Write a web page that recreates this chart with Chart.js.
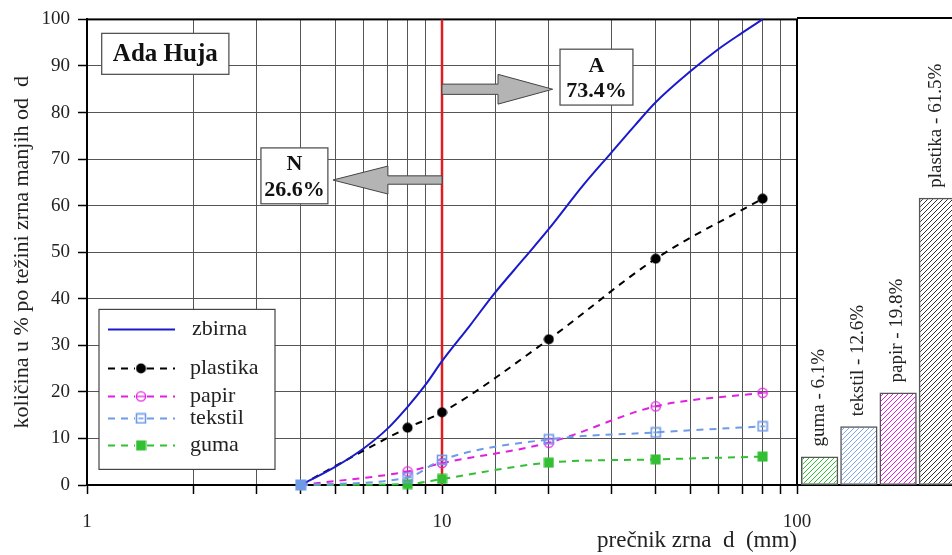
<!DOCTYPE html>
<html><head><meta charset="utf-8">
<script src="https://cdn.jsdelivr.net/npm/chart.js@4.4.1/dist/chart.umd.min.js"></script>
<style>
html,body{margin:0;padding:0;background:#fff;overflow:hidden;width:952px;height:555px;}
#wrap{position:relative;width:952px;height:555px;overflow:hidden;}
#c1{position:absolute;left:0;top:0;}
#c2{position:absolute;left:797px;top:0;}
</style></head><body>
<div id="wrap"><canvas id="c1" width="952" height="555"></canvas><canvas id="c2" width="160" height="555"></canvas></div>
<script>
// ---------- data ----------
const zbirnaX = [4, 5, 6, 7, 8, 9, 10, 12, 14, 17, 20, 25, 30, 35, 40, 50, 60, 70, 80];
const zbirnaY = [0, 3.9, 7.8, 12, 16.8, 21.6, 26.6, 34.3, 41, 48.6, 55, 64.4, 71.4, 77.3, 82.2, 88.8, 93.6, 97.1, 100];
const sieveX = [4, 8, 10, 20, 40, 80];
const plastika = [0, 12.3, 15.6, 31.3, 48.6, 61.5];
const papir = [0, 2.9, 4.7, 9.1, 16.9, 19.8];
const tekstil = [0, 1.6, 5.4, 9.8, 11.3, 12.6];
const guma = [0, 0.2, 1.3, 4.8, 5.5, 6.1];
const barNames = ['guma', 'tekstil', 'papir', 'plastika'];
const barValues = [6.1, 12.6, 19.8, 61.5];
const xTicks = [1, 2, 3, 4, 5, 6, 7, 8, 9, 10, 14.14, 20, 30, 40, 50, 60, 70, 80, 90, 100];
const xLabelTicks = [1, 10, 100];
const yTicks = [0, 10, 20, 30, 40, 50, 60, 70, 80, 90, 100];
const splitSize = 10;
const shareN = 26.6, shareA = 73.4;
const siteName = 'Ada Huja';

const serif = "'Liberation Serif','Times New Roman',serif";
const TXT = '#222';
const C = {zbirna:'#1a1acc', plastika:'#000000', papir:'#e020e0', tekstil:'#6f9ae8', guma:'#33bf33'};

function xy(xs, ys){ return xs.map((x,i)=>({x:x, y:ys[i]})); }
function mk(w,h,draw){ const c=document.createElement('canvas'); c.width=w; c.height=h; draw(c.getContext('2d')); return c; }
const mPlast = mk(11,11,g=>{ g.fillStyle=C.plastika; g.beginPath(); g.arc(5.5,5.5,5,0,2*Math.PI); g.fill(); });
const mPapir = mk(12,12,g=>{ g.strokeStyle=C.papir; g.lineWidth=1.3; g.beginPath(); g.arc(6,6,4.6,0,2*Math.PI); g.stroke(); g.beginPath(); g.moveTo(1.5,6); g.lineTo(10.5,6); g.stroke(); });
const mTekst = mk(12,12,g=>{ g.strokeStyle=C.tekstil; g.lineWidth=1.6; g.strokeRect(1.5,1.5,9,9); g.beginPath(); g.moveTo(3.5,6); g.lineTo(8.5,6); g.stroke(); });
const mTekstFull = mk(12,12,g=>{ g.fillStyle=C.tekstil; g.fillRect(0.5,0.5,11,11); });
const mGuma = mk(11,11,g=>{ g.fillStyle=C.guma; g.fillRect(0.5,0.5,10,10); });
const firstHidden = sieveX.map((x,i)=> i===0 ? 0 : 5);

// ---------- annotations (data coords) ----------
const boxTitle = {x0:1.10, x1:2.51, y0:97.0, y1:88.2};
const boxN = {x0:3.09, x1:4.77, y0:72.4, y1:60.4};
const boxA = {x0:21.5, x1:34.5, y0:93.6, y1:81.6};
const arrowN = {from:splitSize, base:7.04, tip:4.93, y:65.5, shaft:0.9, head:3.0};
const arrowA = {from:splitSize, base:14.38, tip:20.5, y:85.0, shaft:1.1, head:3.2};

const overlay = {
  id:'overlay',
  beforeDatasetsDraw(chart){
    const {ctx, chartArea:a, scales:{x, y}} = chart;
    ctx.save();
    ctx.strokeStyle='#000'; ctx.lineWidth=2;
    ctx.strokeRect(a.left, a.top, a.right-a.left, a.bottom-a.top);
    const rx = x.getPixelForValue(splitSize);
    ctx.strokeStyle='#e01c1c'; ctx.lineWidth=2.5;
    ctx.beginPath(); ctx.moveTo(rx, y.getPixelForValue(0)); ctx.lineTo(rx, y.getPixelForValue(100)); ctx.stroke();
    ctx.restore();
  },
  afterDatasetsDraw(chart){
    const {ctx, chartArea:a, scales:{x, y}} = chart;
    const px=v=>x.getPixelForValue(v), py=v=>y.getPixelForValue(v);
    ctx.save();
    function box(b){
      const l=px(b.x0), r=px(b.x1), t=py(b.y0), btm=py(b.y1);
      ctx.fillStyle='#fff'; ctx.fillRect(l,t,r-l,btm-t);
      ctx.strokeStyle='#555'; ctx.lineWidth=1.3; ctx.strokeRect(l,t,r-l,btm-t);
      return {l,r,t,b:btm,cx:(l+r)/2,h:btm-t};
    }
    function arrow(ar){
      const x0=px(ar.from), xb=px(ar.base), xt=px(ar.tip), yc=py(ar.y);
      const s=py(ar.y-ar.shaft)-yc, h=py(ar.y-ar.head)-yc;
      ctx.beginPath();
      ctx.moveTo(x0, yc-s); ctx.lineTo(xb, yc-s); ctx.lineTo(xb, yc-h); ctx.lineTo(xt, yc);
      ctx.lineTo(xb, yc+h); ctx.lineTo(xb, yc+s); ctx.lineTo(x0, yc+s); ctx.closePath();
      ctx.fillStyle='#b4b4b4'; ctx.fill(); ctx.strokeStyle='#444'; ctx.lineWidth=1; ctx.stroke();
    }
    arrow(arrowN); arrow(arrowA);
    ctx.textAlign='center'; ctx.textBaseline='middle';
    let b = box(boxTitle);
    ctx.font='bold 25px '+serif; ctx.fillStyle='#111'; ctx.fillText(siteName, b.cx, b.t+b.h/2+1);
    b = box(boxN);
    ctx.font='bold 22px '+serif; ctx.fillStyle='#111';
    ctx.fillText('N', b.cx, b.t+b.h*0.29); ctx.fillText(shareN.toFixed(1)+'%', b.cx, b.t+b.h*0.76);
    b = box(boxA);
    ctx.font='bold 22px '+serif; ctx.fillStyle='#111';
    ctx.fillText('A', b.cx, b.t+b.h*0.30); ctx.fillText(shareA.toFixed(1)+'%', b.cx, b.t+b.h*0.75);

    // legend
    const L=a.left, T=a.top;
    ctx.fillStyle='#fff'; ctx.fillRect(L+12, T+290, 176, 160);
    ctx.strokeStyle='#444'; ctx.lineWidth=1.2; ctx.strokeRect(L+12, T+290, 176, 160);
    const rows=[
      {name:'zbirna', color:C.zbirna, dash:[], marker:null, dy:310, tx:105},
      {name:'plastika', color:C.plastika, dash:[7,6], marker:mPlast, dy:349, tx:103},
      {name:'papir', color:C.papir, dash:[7,6], marker:mPapir, dy:377, tx:103},
      {name:'tekstil', color:C.tekstil, dash:[7,6], marker:mTekst, dy:399, tx:103},
      {name:'guma', color:C.guma, dash:[7,6], marker:mGuma, dy:426, tx:103}
    ];
    rows.forEach(r=>{
      const yy=T+r.dy;
      ctx.strokeStyle=r.color; ctx.lineWidth=2; ctx.setLineDash(r.dash);
      ctx.beginPath(); ctx.moveTo(L+21, yy); ctx.lineTo(L+88, yy); ctx.stroke();
      ctx.setLineDash([]);
      if(r.marker){ ctx.fillStyle='#fff'; ctx.fillRect(L+54-6, yy-6, 12, 12); ctx.drawImage(r.marker, L+54-r.marker.width/2, yy-r.marker.height/2); }
      ctx.fillStyle=TXT; ctx.font='22px '+serif; ctx.textAlign='left'; ctx.textBaseline='middle';
      ctx.fillText(r.name, L+r.tx, yy);
    });
    ctx.restore();
  }
};

const lineBase = {borderWidth:2, borderDash:[7,6], cubicInterpolationMode:'monotone', clip:false, pointHoverRadius:5};
new Chart(document.getElementById('c1').getContext('2d'), {
  type:'line',
  data:{ datasets:[
    {label:'zbirna', data:xy(zbirnaX,zbirnaY), borderColor:C.zbirna, borderWidth:2, pointRadius:0, cubicInterpolationMode:'monotone', clip:false, order:1},
    Object.assign({}, lineBase, {label:'plastika', data:xy(sieveX,plastika), borderColor:C.plastika, pointStyle:mPlast, pointRadius:firstHidden, order:2}),
    Object.assign({}, lineBase, {label:'papir', data:xy(sieveX,papir), borderColor:C.papir, pointStyle:mPapir, pointRadius:firstHidden, order:3}),
    Object.assign({}, lineBase, {label:'tekstil', data:xy(sieveX,tekstil), borderColor:C.tekstil, pointStyle:sieveX.map((x,i)=> i===0 ? mTekstFull : mTekst), pointRadius:5, order:0}),
    Object.assign({}, lineBase, {label:'guma', data:xy(sieveX,guma), borderColor:C.guma, pointStyle:mGuma, pointRadius:firstHidden, order:4})
  ]},
  options:{
    responsive:false, animation:false, devicePixelRatio:1,
    layout:{padding:{top:18, right:155, bottom:0, left:0}},
    plugins:{legend:{display:false}, tooltip:{enabled:false}},
    scales:{
      x:{ type:'logarithmic', min:1, max:100,
        afterBuildTicks:s=>{ s.ticks = xTicks.map(v=>({value:v})); },
        afterFit:s=>{ s.height = 70; },
        ticks:{ callback:v=> xLabelTicks.includes(v) ? String(v) : '', autoSkip:false, maxRotation:0, font:{family:serif, size:19}, color:TXT, padding:17 },
        grid:{ color:'#555', lineWidth:1, tickLength:9, tickColor:'#000', tickWidth:1.5 },
        border:{ color:'#000', width:2 },
        title:{ display:true, text:'prečnik zrna  d  (mm)', align:'end', font:{family:serif, size:23}, color:TXT, padding:{top:0, bottom:0} }
      },
      y:{ min:0, max:100,
        afterBuildTicks:s=>{ s.ticks = yTicks.map(v=>({value:v})); },
        afterFit:s=>{ s.width = 87; },
        ticks:{ font:{family:serif, size:19}, color:TXT, padding:8 },
        grid:{ color:'#555', lineWidth:1, tickLength:9, tickColor:'#000', tickWidth:1.5 },
        border:{ color:'#000', width:2 },
        title:{ display:true, text:'količina u % po težini zrna manjih od  d', font:{family:serif, size:22}, color:TXT, padding:{top:9,bottom:0} }
      }
    }
  },
  plugins:[overlay]
});

// ---------- bar panel ----------
const ctx2 = document.getElementById('c2').getContext('2d');
function hatch(color){
  const n=5, c=document.createElement('canvas'); c.width=n; c.height=n;
  const g=c.getContext('2d'); g.strokeStyle=color; g.lineWidth=1;
  g.beginPath(); g.moveTo(0,n); g.lineTo(n,0); g.moveTo(-1,1); g.lineTo(1,-1); g.moveTo(n-1,n+1); g.lineTo(n+1,n-1); g.stroke();
  return ctx2.createPattern(c,'repeat');
}
const panel = {
  id:'panel',
  beforeDatasetsDraw(chart){
    const {ctx, chartArea:a, width} = chart;
    ctx.save(); ctx.strokeStyle='#000'; ctx.lineWidth=2;
    ctx.beginPath(); ctx.moveTo(0,a.top); ctx.lineTo(width,a.top); ctx.moveTo(0,a.bottom); ctx.lineTo(width,a.bottom); ctx.stroke();
    ctx.restore();
  },
  afterDatasetsDraw(chart){
    const {ctx} = chart; const meta = chart.getDatasetMeta(0);
    ctx.save(); ctx.fillStyle=TXT; ctx.font='19px '+serif; ctx.textAlign='left'; ctx.textBaseline='middle';
    meta.data.forEach((bar,i)=>{
      ctx.save(); ctx.translate(bar.x-1, bar.y-10); ctx.rotate(-Math.PI/2);
      ctx.fillText(barNames[i]+' - '+barValues[i].toFixed(1)+'%', 0, 0); ctx.restore();
    });
    ctx.restore();
  }
};
new Chart(ctx2, {
  type:'bar',
  data:{ labels:barNames, datasets:[{ data:barValues,
    backgroundColor:[hatch(C.guma), hatch('#7fa6e6'), hatch(C.papir), hatch('#333')],
    borderColor:'#555', borderWidth:1.5, borderSkipped:false, categoryPercentage:1, barPercentage:0.95 }]},
  options:{ responsive:false, animation:false, devicePixelRatio:1,
    layout:{padding:{top:18, bottom:70, left:3, right:0}},
    plugins:{legend:{display:false}, tooltip:{enabled:false}},
    scales:{ x:{display:false}, y:{display:false, min:0, max:100} } },
  plugins:[panel]
});
</script>
</body></html>
